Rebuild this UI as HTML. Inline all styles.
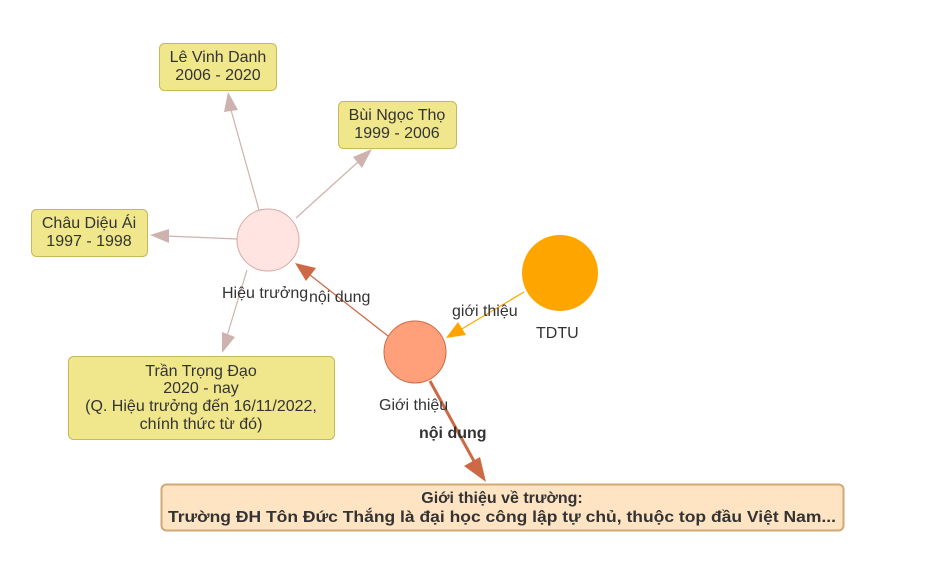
<!DOCTYPE html>
<html><head><meta charset="utf-8"><style>
html,body{margin:0;padding:0;background:#fff;}
svg{display:block;}
text{font-family:"Liberation Sans",Arial,sans-serif;font-size:16px;fill:#333;}
</style></head><body>
<svg width="947" height="572" viewBox="0 0 947 572" xmlns="http://www.w3.org/2000/svg">
<g fill="none" stroke="#ceb2ae" stroke-width="1.2">
<line x1="259" y1="210" x2="231" y2="110"/>
<line x1="296" y1="218" x2="358" y2="162"/>
<line x1="237" y1="239" x2="166" y2="236"/>
<line x1="247" y1="270" x2="227" y2="336"/>
</g>
<g fill="#ceb2ae">
<polygon points="228,92 224,112 238,110"/>
<polygon points="372,149 353,157 362,168"/>
<polygon points="150,235 169,229 169,243"/>
<polygon points="222,353 222,332 235,337"/>
</g>
<line x1="388" y1="336" x2="310" y2="275" stroke="#cd6a45" stroke-width="1.2"/>
<polygon points="295,263 316,268 306,281" fill="#cd6a45"/>
<line x1="524" y1="292" x2="460" y2="330" stroke="#ffa500" stroke-width="1.2"/>
<polygon points="446,338 458,322 466,335" fill="#ffa500"/>
<line x1="430" y1="381" x2="475" y2="463" stroke="#cd6a45" stroke-width="3"/>
<polygon points="486,482 464,466 480,457" fill="#cd6a45"/>
<circle cx="268" cy="240" r="31" fill="#ffe4e1" stroke="#d4aaa6" stroke-width="1"/>
<circle cx="415" cy="352" r="31" fill="#ffa07a" stroke="#cd6a45" stroke-width="1"/>
<circle cx="560" cy="273" r="38" fill="#ffa500"/>
<g fill="#f0e68c" stroke="#c8b85a" stroke-width="1">
<rect x="159.5" y="43.5" width="117" height="47" rx="5"/>
<rect x="338.5" y="101.5" width="118" height="47" rx="5"/>
<rect x="31.5" y="209.5" width="116" height="47" rx="5"/>
<rect x="68.5" y="356.5" width="266" height="83" rx="5"/>
</g>
<rect x="161.5" y="484.5" width="682" height="46" rx="5" fill="#ffe4c4" stroke="#d2a874" stroke-width="2"/>
<g text-anchor="middle">
<text x="218" y="62">Lê Vinh Danh</text>
<text x="218" y="80">2006 - 2020</text>
<text x="397" y="120">Bùi Ngọc Thọ</text>
<text x="397" y="138">1999 - 2006</text>
<text x="89" y="228">Châu Diệu Ái</text>
<text x="89" y="246">1997 - 1998</text>
<text x="201" y="376">Trần Trọng Đạo</text>
<text x="201" y="393">2020 - nay</text>
<text x="201" y="411">(Q. Hiệu trưởng đến 16/11/2022,</text>
<text x="201" y="429">chính thức từ đó)</text>
<text x="502" y="503" style="font-weight:bold">Giới thiệu về trường:</text>
<text x="502" y="522" style="font-weight:bold" textLength="668" lengthAdjust="spacingAndGlyphs">Trường ĐH Tôn Đức Thắng là đại học công lập tự chủ, thuộc top đầu Việt Nam...</text>
</g>
<text x="222" y="298">Hiệu trưởng</text>
<text x="309" y="302">nội dung</text>
<text x="452" y="316">giới thiệu</text>
<text x="536" y="338">TDTU</text>
<text x="379" y="410">Giới thiệu</text>
<text x="419" y="438" style="font-weight:bold">nội dung</text>
</svg>
</body></html>
